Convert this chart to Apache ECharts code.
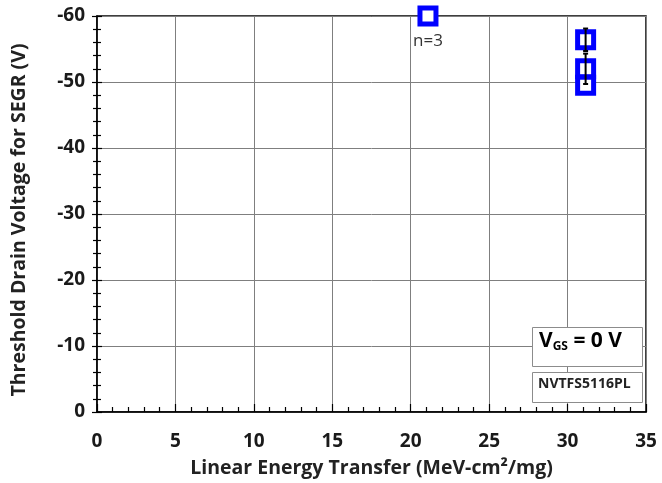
<!DOCTYPE html>
<html>
<head>
<meta charset="utf-8">
<script src="https://cdn.jsdelivr.net/npm/echarts@6/dist/echarts.min.js"></script>
<style>html,body{margin:0;padding:0;background:#fff}#c{width:662px;height:483px}</style>
</head>
<body>
<div id="c"></div>
<script>
// Data
const xTicks = [0, 5, 10, 15, 20, 25, 30, 35];
const yTicks = [0, -10, -20, -30, -40, -50, -60];
const letValues = [21.1, 31.15, 31.15, 31.15];
const voltValues = [-60, -56.4, -52, -49.5];
const errValues = [0, 1.7, 2.3, 0];
const pointLabels = ['n=3', '', '', ''];

const FONT = '"Open Sans", "DejaVu Sans", sans-serif';
const chart = echarts.init(document.getElementById('c'));

const pts = letValues.map((x, i) => [x, voltValues[i]]);
const errs = letValues.map((x, i) => [x, voltValues[i], errValues[i]]);

chart.setOption({
  animation: false,
  grid: { left: 97, right: 16, top: 16, bottom: 71, show: true, borderColor: '#000', borderWidth: 1.5, backgroundColor: '#fff' },
  xAxis: {
    type: 'value', min: xTicks[0], max: xTicks[xTicks.length - 1], interval: 5,
    name: 'Linear Energy Transfer (MeV-cm²/mg)', nameLocation: 'middle', nameGap: 46,
    nameTextStyle: { fontFamily: FONT, fontWeight: 'bold', fontSize: 19.5, color: '#222' },
    axisLine: { lineStyle: { color: '#000', width: 1.5 } },
    axisTick: { inside: true, length: 8, lineStyle: { color: '#000', width: 1.2 } },
    minorTick: { show: true, splitNumber: 5, length: 5, lineStyle: { color: '#000', width: 1.2 } },
    axisLabel: { fontFamily: FONT, fontWeight: 'bold', fontSize: 19, color: '#1a1a1a', margin: 20 },
    splitLine: { show: true, lineStyle: { color: '#7f7f7f', width: 1 } }
  },
  yAxis: [{
    type: 'value', min: yTicks[yTicks.length - 1], max: yTicks[0], interval: 10, inverse: true,
    name: 'Threshold Drain Voltage for SEGR (V)', nameLocation: 'middle', nameGap: 68, nameRotate: 90,
    nameTextStyle: { fontFamily: FONT, fontWeight: 'bold', fontSize: 19.5, color: '#222', padding: [0, 12, 0, 0] },
    axisLine: { show: true, lineStyle: { color: '#000', width: 1.5 } },
    axisTick: { show: true, length: 5, lineStyle: { color: '#000', width: 1.2 } },
    minorTick: { show: true, splitNumber: 5, length: 4, lineStyle: { color: '#000', width: 1.2 } },
    axisLabel: { fontFamily: FONT, fontWeight: 'bold', fontSize: 19, color: '#1a1a1a', margin: 12 },
    splitLine: { show: true, lineStyle: { color: '#7f7f7f', width: 1 } }
  }, {
    type: 'value', min: yTicks[yTicks.length - 1], max: yTicks[0], interval: 10, inverse: true, position: 'left',
    axisLine: { show: false }, axisLabel: { show: false }, splitLine: { show: false },
    axisTick: { show: true, inside: true, length: 5, lineStyle: { color: '#000', width: 1.2 } },
    minorTick: { show: true, splitNumber: 5, length: 4, lineStyle: { color: '#000', width: 1.2 } }
  }],
  series: [{
    type: 'scatter',
    data: pts.map((p, i) => ({ value: p, label: { show: !!pointLabels[i], formatter: pointLabels[i] } })),
    symbol: 'rect', symbolSize: 16,
    clip: false,
    z: 4,
    itemStyle: { color: '#fff', borderColor: '#0000ff', borderWidth: 5, opacity: 1 },
    label: { position: 'bottom', distance: 6, fontFamily: FONT, fontSize: 17, color: '#333' }
  }, {
    type: 'custom',
    data: errs,
    clip: false,
    z: 5,
    renderItem: function (params, api) {
      const x = api.value(0), y = api.value(1), e = api.value(2);
      if (!e) return null;
      const top = api.coord([x, y - e]);
      const bot = api.coord([x, y + e]);
      const lw = 2;
      return {
        type: 'group',
        children: [
          { type: 'line', shape: { x1: top[0], y1: top[1], x2: bot[0], y2: bot[1] }, style: { stroke: '#000', lineWidth: lw } },
          { type: 'line', shape: { x1: top[0] - 2.5, y1: top[1], x2: top[0] + 2.5, y2: top[1] }, style: { stroke: '#000', lineWidth: lw } },
          { type: 'line', shape: { x1: bot[0] - 2.5, y1: bot[1], x2: bot[0] + 2.5, y2: bot[1] }, style: { stroke: '#000', lineWidth: lw } }
        ]
      };
    }
  }],
  graphic: [
    { type: 'rect', left: 532, top: 327, shape: { width: 110, height: 39 }, style: { fill: '#fff', stroke: '#8c8c8c', lineWidth: 1 }, z: 10 },
    { type: 'text', left: 539, top: 331, z: 11,
      style: { text: '{v|V}{s|GS}{v| = 0 V}', rich: {
        v: { fontFamily: FONT, fontWeight: 'bold', fontSize: 21, color: '#111' },
        s: { fontFamily: FONT, fontWeight: 'bold', fontSize: 12, color: '#111', padding: [11, 0, 0, 0] } } } },
    { type: 'rect', left: 532, top: 372, shape: { width: 110, height: 30 }, style: { fill: '#fff', stroke: '#8c8c8c', lineWidth: 1 }, z: 10 },
    { type: 'text', left: 538, top: 377, z: 11,
      style: { text: 'NVTFS5116PL', fontFamily: FONT, fontWeight: 'bold', fontSize: 14, fill: '#222' } }
  ]
});
</script>
</body>
</html>
